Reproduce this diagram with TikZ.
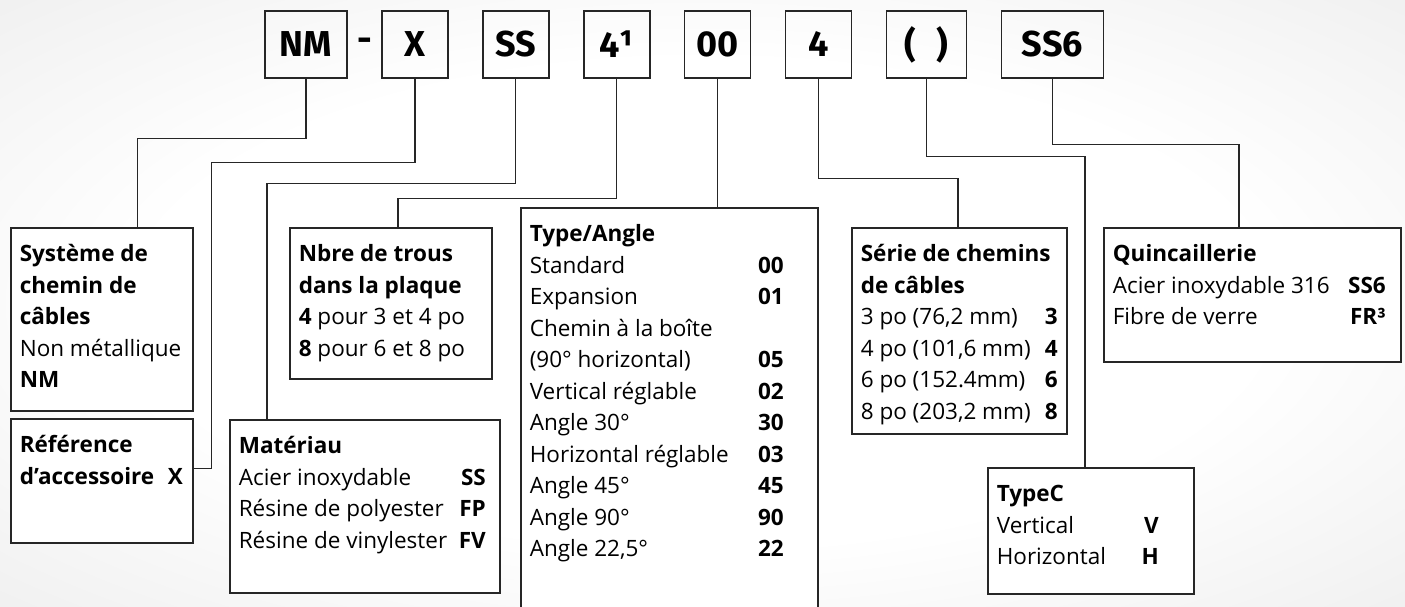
\documentclass[tikz,border=0pt]{standalone}
\usepackage{fontspec}
\setmainfont{Open Sans}
\newfontfamily\codefont{Fira Sans}
\usetikzlibrary{positioning, calc}

\pgfdeclareradialshading{vignette}{\pgfpoint{0bp}{0bp}}{color(0bp)=(white); color(20bp)=(white); color(50bp)=(black!11)}

\newlength\codegap
\newcommand{\entryline}[2]{\hbox to \linewidth{\strut#1\hfil\textbf{#2}\hskip\codegap}}
\newcommand{\boxtext}[3]{\parbox[t][\dimexpr#2-24pt][t]{\dimexpr#1-18pt}{#3}}

\begin{document}
\begin{tikzpicture}[x=1pt, y=-1pt,
    codebox/.style={draw=black!85, line width=1.6pt, minimum width=66pt, minimum height=67pt, inner sep=0pt,
        font=\codefont\bfseries\fontsize{36}{36}\selectfont},
    descbox/.style={draw=black!85, line width=1.6pt, fill=white, anchor=north west,
        inner xsep=9pt, inner ysep=12pt, font=\fontsize{22.5}{31.5}\selectfont},
    link/.style={draw=black!85, line width=1.3pt}]
    \clip (0,0) rectangle (1405,606);
    \shade[shading=vignette] (0,0) rectangle (1405,606);

    % code boxes
    \node[codebox, minimum width=82pt] (nm) at (306,44.5) {NM};
    \node[codebox, right=33.3pt of nm] (xc) {X};
    \node[font=\codefont\bfseries\fontsize{36}{36}\selectfont] (dash) at ($(nm.east)!0.5!(xc.west)$) {-};
    \node[codebox, right=33.3pt of xc] (ss) {SS};
    \node[codebox, right=33.3pt of ss] (quatreun) {4¹};
    \node[codebox, right=33.3pt of quatreun] (zerozero) {00};
    \node[codebox, right=33.3pt of zerozero] (quatre) {4};
    \node[codebox, minimum width=80pt, right=33.3pt of quatre] (paren) {(\hspace{20pt})};
    \node[codebox, minimum width=102pt, right=33.3pt of paren] (ssix) {SS6};

    % description boxes
    \node[descbox] (sys) at (10,227) {\boxtext{182pt}{183pt}{%
        \entryline{\textbf{Système de}}{}
        \entryline{\textbf{chemin de}}{}
        \entryline{\textbf{câbles}}{}
        \entryline{Non métallique}{}
        \entryline{\textbf{NM}}{}}};
    \node[descbox] (ref) at (10,418) {\setlength\codegap{1pt}\boxtext{182pt}{124pt}{%
        \entryline{\textbf{Référence}}{}
        \entryline{\textbf{d’accessoire}}{X}}};
    \node[descbox] (mat) at (229,419) {\setlength\codegap{5pt}\boxtext{270pt}{173pt}{%
        \entryline{\textbf{Matériau}}{}
        \entryline{Acier inoxydable}{SS}
        \entryline{Résine de polyester}{FP}
        \entryline{Résine de vinylester}{FV}}};
    \node[descbox] (nbre) at (289,227) {\boxtext{202pt}{151pt}{%
        \entryline{\textbf{Nbre de trous}}{}
        \entryline{\textbf{dans la plaque}}{}
        \entryline{\textbf{4} pour 3 et 4 po}{}
        \entryline{\textbf{8} pour 6 et 8 po}{}}};
    \node[descbox] (type) at (520,207) {\setlength\codegap{25pt}\boxtext{297pt}{420pt}{%
        \entryline{\textbf{Type/Angle}}{}
        \entryline{Standard}{00}
        \entryline{Expansion}{01}
        \entryline{Chemin à la boîte}{}
        \entryline{(90° horizontal)}{05}
        \entryline{Vertical réglable}{02}
        \entryline{Angle 30°}{30}
        \entryline{Horizontal réglable}{03}
        \entryline{Angle 45°}{45}
        \entryline{Angle 90°}{90}
        \entryline{Angle 22,5°}{22}}};
    \node[descbox] (serie) at (851,227) {\boxtext{215pt}{206pt}{%
        \entryline{\textbf{Série de chemins}}{}
        \entryline{\textbf{de câbles}}{}
        \entryline{3 po (76,2 mm)}{3}
        \entryline{4 po (101,6 mm)}{4}
        \entryline{6 po (152.4mm)}{6}
        \entryline{8 po (203,2 mm)}{8}}};
    \node[descbox] (typec) at (987,467) {\setlength\codegap{26pt}\boxtext{206pt}{126pt}{%
        \entryline{\textbf{TypeC}}{}
        \entryline{Vertical}{V}
        \entryline{Horizontal}{H}}};
    \node[descbox] (quin) at (1103,227) {\setlength\codegap{6pt}\boxtext{297pt}{134pt}{%
        \entryline{\textbf{Quincaillerie}}{}
        \entryline{Acier inoxydable 316}{SS6}
        \entryline{Fibre de verre}{FR³}}};

    % leader lines
    \draw[link] (nm.south) -- ++(0,60) -| ([xshift=-56pt]sys.north east);
    \draw[link] (xc.south) -- ++(0,84) -| ([xshift=18pt,yshift=12pt]ref.east) -- ([yshift=12pt]ref.east);
    \draw[link] (ss.south) -- ++(0,105) -| ([xshift=38pt]mat.north west);
    \draw[link] (quatreun.south) -- ++(0,120) -| ([xshift=109pt]nbre.north west);
    \draw[link] (zerozero.south) -- (zerozero.south |- type.north);
    \draw[link] (quatre.south) -- ++(0,100) -| ([xshift=107pt]serie.north west);
    \draw[link] (paren.south) -- ++(0,78) -| ([xshift=98pt]typec.north west);
    \draw[link] (ssix.south) -- ++(0,66) -| ([xshift=136pt]quin.north west);
\end{tikzpicture}
\end{document}
